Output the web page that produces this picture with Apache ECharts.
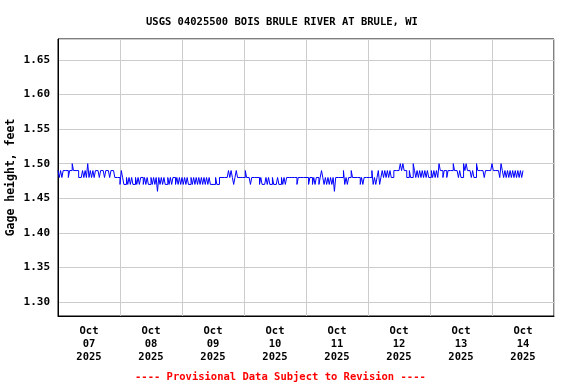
<!DOCTYPE html>
<html>
<head>
<meta charset="utf-8">
<script src="https://cdn.jsdelivr.net/npm/echarts@6/dist/echarts.min.js"></script>
<style>html,body{margin:0;padding:0;background:#fff}#c{width:576px;height:384px}</style>
</head>
<body>
<div id="c"></div>
<script>
// Gage height (feet), 30-minute readings, each array starts at 00:00 of that day
const oct07 = [1.49,1.48,1.49,1.48,1.49,1.49,1.49,1.49,1.48,1.49,1.49,1.50,1.49,1.49,1.49,1.49,1.48,1.48,1.48,1.49,1.48,1.49,1.48,1.50,1.48,1.49,1.48,1.49,1.48,1.49,1.49,1.49,1.48,1.49,1.49,1.49,1.48,1.49,1.49,1.49,1.48,1.49,1.49,1.49,1.48,1.48,1.48,1.48];
const oct08 = [1.47,1.49,1.48,1.47,1.47,1.48,1.47,1.48,1.47,1.48,1.47,1.47,1.48,1.47,1.48,1.47,1.48,1.48,1.47,1.48,1.47,1.48,1.47,1.47,1.48,1.47,1.48,1.47,1.48,1.46,1.48,1.47,1.48,1.47,1.48,1.47,1.47,1.48,1.47,1.48,1.47,1.48,1.48,1.47,1.48,1.47,1.48,1.47];
const oct09 = [1.48,1.47,1.48,1.47,1.48,1.47,1.47,1.48,1.47,1.48,1.47,1.48,1.47,1.48,1.47,1.48,1.47,1.48,1.47,1.48,1.47,1.48,1.47,1.47,1.47,1.47,1.48,1.47,1.47,1.48,1.48,1.48,1.48,1.48,1.48,1.48,1.49,1.48,1.49,1.48,1.47,1.48,1.49,1.48,1.48,1.48,1.48,1.48];
const oct10 = [1.48,1.49,1.48,1.48,1.48,1.47,1.48,1.48,1.48,1.48,1.48,1.48,1.47,1.48,1.47,1.47,1.47,1.48,1.47,1.48,1.47,1.47,1.48,1.47,1.47,1.47,1.48,1.47,1.47,1.48,1.47,1.48,1.47,1.48,1.48,1.48,1.48,1.48,1.48,1.48,1.48,1.47,1.48,1.48,1.48,1.48,1.48,1.48];
const oct11 = [1.48,1.48,1.47,1.48,1.48,1.47,1.48,1.47,1.48,1.48,1.47,1.48,1.49,1.48,1.47,1.48,1.47,1.48,1.47,1.48,1.47,1.48,1.46,1.48,1.48,1.48,1.48,1.48,1.48,1.49,1.47,1.48,1.47,1.48,1.48,1.49,1.48,1.48,1.48,1.48,1.48,1.48,1.47,1.48,1.47,1.48,1.48,1.48];
const oct12 = [1.48,1.48,1.48,1.49,1.47,1.48,1.47,1.48,1.49,1.47,1.48,1.49,1.48,1.49,1.48,1.49,1.48,1.49,1.48,1.48,1.49,1.49,1.49,1.49,1.49,1.50,1.49,1.50,1.49,1.49,1.48,1.48,1.49,1.48,1.48,1.50,1.49,1.48,1.49,1.48,1.49,1.48,1.49,1.48,1.49,1.48,1.49,1.48];
const oct13 = [1.48,1.49,1.48,1.49,1.48,1.49,1.48,1.50,1.49,1.49,1.48,1.49,1.49,1.48,1.49,1.49,1.49,1.49,1.50,1.49,1.49,1.49,1.48,1.49,1.48,1.48,1.50,1.49,1.50,1.49,1.49,1.49,1.48,1.49,1.48,1.48,1.50,1.49,1.49,1.49,1.49,1.49,1.48,1.49,1.49,1.49,1.49,1.49];
const oct14 = [1.50,1.49,1.49,1.49,1.49,1.49,1.48,1.50,1.49,1.48,1.49,1.48,1.49,1.48,1.49,1.48,1.49,1.48,1.49,1.48,1.49,1.48,1.49,1.48,1.49];

const dayArrays = [oct07, oct08, oct09, oct10, oct11, oct12, oct13, oct14];
const dayLabels = ['07', '08', '09', '10', '11', '12', '13', '14'];
const monthLabel = 'Oct';
const yearLabel = '2025';
const yTicks = [1.30, 1.35, 1.40, 1.45, 1.50, 1.55, 1.60, 1.65];
const titleText = 'USGS 04025500 BOIS BRULE RIVER AT BRULE, WI';
const footText = '---- Provisional Data Subject to Revision ----';
const stepHours = 0.5;

const seriesData = [];
dayArrays.forEach((arr, d) => {
  arr.forEach((v, i) => seriesData.push([d * 24 + i * stepHours, v]));
});
const dayCategories = dayLabels.map(d => monthLabel + '\n' + d + '\n' + yearLabel);

const FONT = 'DejaVu Sans Mono';
const chart = echarts.init(document.getElementById('c'), null, { renderer: 'canvas' });
chart.setOption({
  animation: false,
  backgroundColor: '#ffffff',
  title: [
    { text: titleText, left: 141, top: 12,
      textStyle: { fontFamily: FONT, fontWeight: 'bold', fontSize: 10.5, color: '#000' } },
    { text: footText, left: 130, top: 367,
      textStyle: { fontFamily: FONT, fontWeight: 'bold', fontSize: 10.5, color: '#ff0000' } }
  ],
  grid: { left: 58, right: 22, top: 39, bottom: 68, show: true, borderColor: '#000', borderWidth: 1,
          containLabel: false, outerBoundsMode: 'none' },
  xAxis: [{
    type: 'value', min: 0, max: 192, interval: 24,
    axisLine: { show: true, lineStyle: { color: '#000', width: 1 } },
    axisTick: { show: false },
    splitLine: { show: true, lineStyle: { color: '#cccccc', width: 1 } },
    axisLabel: { show: false }
  }, {
    type: 'category', data: dayCategories, position: 'bottom', boundaryGap: true,
    axisLine: { show: false }, axisTick: { show: false }, splitLine: { show: false },
    axisLabel: {
      interval: 0, margin: 9, lineHeight: 13,
      fontFamily: FONT, fontWeight: 'bold', fontSize: 10.5, color: '#000'
    }
  }],
  yAxis: {
    type: 'value', min: 1.28, max: 1.68, splitNumber: 8, minInterval: 0.05, maxInterval: 0.05,
    name: 'Gage height, feet', nameLocation: 'middle', nameGap: 41, nameMoveOverlap: false,
    nameTextStyle: { fontFamily: FONT, fontWeight: 'bold', fontSize: 11.5, color: '#000' },
    axisLine: { show: true, lineStyle: { color: '#000', width: 1 } },
    axisTick: { show: false },
    splitLine: { show: true, lineStyle: { color: '#cccccc', width: 1 } },
    axisLabel: {
      showMinLabel: false, showMaxLabel: false, margin: 8,
      fontFamily: FONT, fontWeight: 'bold', fontSize: 11, color: '#000',
      formatter: function (v) {
        const hit = yTicks.find(t => Math.abs(t - v) < 1e-6);
        return hit === undefined ? '' : hit.toFixed(2);
      }
    }
  },
  series: [{
    type: 'line', xAxisIndex: 0, data: seriesData, step: 'end', showSymbol: false, symbol: 'none',
    lineStyle: { color: '#0000ff', width: 1 }, itemStyle: { color: '#0000ff' }
  }]
});
</script>
</body>
</html>
